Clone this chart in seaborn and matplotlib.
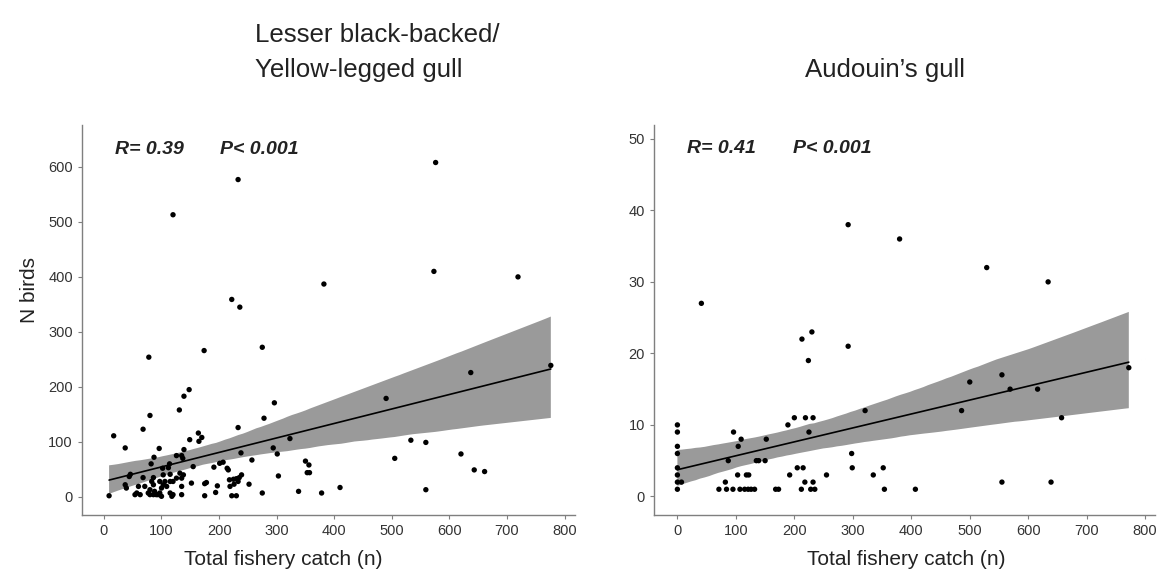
import matplotlib
matplotlib.use("Agg")
import matplotlib.pyplot as plt
import seaborn as sns
import pandas as pd

# Lesser black-backed / Yellow-legged gull
lbb_catch = [233, 120, 576, 573, 719, 382, 222, 236, 275, 174, 78, 148, 139, 131, 296, 80, 278, 68, 233, 17,
             37, 96, 149, 164, 170, 165, 139, 126, 135, 137, 87, 82, 102, 114, 112, 155,
             46, 44, 68, 86, 103, 115, 132, 138,
             37, 39, 60, 71, 83, 86, 80, 97, 106, 103, 100, 109, 115, 120, 126, 135, 135, 152,
             54, 57, 63, 77, 80, 86, 88, 91, 94, 100, 97, 115, 118, 120, 135, 9,
             294, 301, 238, 257, 201, 207, 191, 214, 216, 303, 239, 235, 230, 225, 218, 233, 226, 219, 252,
             175, 178, 197, 194, 175, 222, 230, 275, 323, 338, 350, 356, 353, 357, 378, 410, 490, 505, 533,
             559, 559, 620, 637, 643, 661, 776]
lbb_birds = [577, 513, 608, 410, 400, 387, 359, 345, 272, 266, 254, 195, 183, 158, 171, 148, 143, 123, 126, 111,
             89, 88, 104, 116, 108, 101, 86, 75, 75, 70, 72, 60, 52, 60, 53, 55,
             41, 37, 35, 35, 40, 41, 43, 40,
             22, 16, 19, 19, 28, 22, 13, 28, 28, 22, 16, 19, 28, 28, 34, 34, 19, 25,
             4, 7, 4, 7, 4, 4, 10, 4, 4, 1, 7, 7, 1, 4, 4, 2,
             89, 78, 80, 67, 61, 63, 54, 52, 49, 38, 40, 35, 33, 32, 31, 28, 23, 19, 23,
             24, 26, 20, 8, 2, 2, 2, 7, 106, 10, 65, 58, 44, 44, 7, 17, 179, 70, 103,
             99, 13, 78, 226, 49, 46, 239]

# Audouin's gull
aud_catch = [0, 0, 0, 0, 0, 0, 0, 0, 7, 41, 82, 87,
             71, 84, 95, 107, 115, 121, 126, 132, 168, 173, 212, 228, 235, 354, 407,
             96, 104, 109, 103, 118, 122, 192, 255, 335, 135, 139, 150, 152,
             189, 200, 219, 232, 205, 215, 218, 232, 213, 230, 224, 225,
             292, 292, 298, 299, 321, 352, 380,
             486, 500, 529, 555, 555, 569, 616, 634, 639, 657, 772]
aud_birds = [10, 9, 7, 6, 4, 3, 2, 1, 2, 27, 2, 5,
             1, 1, 1, 1, 1, 1, 1, 1, 1, 1, 1, 1, 1, 1, 1,
             9, 7, 8, 3, 3, 3, 3, 3, 3, 5, 5, 5, 8,
             10, 11, 11, 11, 4, 4, 2, 2, 22, 23, 19, 9,
             21, 38, 6, 4, 12, 4, 36,
             12, 16, 32, 17, 2, 15, 15, 30, 2, 11, 18]

x_ticks = [0, 100, 200, 300, 400, 500, 600, 700, 800]
lbb_yticks = [0, 100, 200, 300, 400, 500, 600]
aud_yticks = [0, 10, 20, 30, 40, 50]

sns.set_style("ticks")
plt.rcParams['font.family'] = ['Liberation Sans', 'DejaVu Sans']

fig = plt.figure(figsize=(11.6, 5.81), dpi=100)
ax1 = fig.add_axes([0.0707, 0.1136, 0.425, 0.672])
ax2 = fig.add_axes([0.5638, 0.1136, 0.432, 0.672])

df1 = pd.DataFrame({"catch": lbb_catch, "birds": lbb_birds})
df2 = pd.DataFrame({"catch": aud_catch, "birds": aud_birds})

for ax, df in [(ax1, df1), (ax2, df2)]:
    sns.regplot(data=df, x="catch", y="birds", ax=ax, scatter=False, ci=95, seed=0,
                color="black", line_kws={"linewidth": 1.2, "zorder": 4})
    for coll in ax.collections:
        coll.set_facecolor("#9a9a9a")
        coll.set_edgecolor("none")
        coll.set_alpha(1)
        coll.set_zorder(2)
    sns.scatterplot(data=df, x="catch", y="birds", ax=ax, color="black", s=15,
                    edgecolor="none", zorder=3)
    ax.set_xticks(x_ticks)
    for s in ["top", "right"]:
        ax.spines[s].set_visible(False)
    for s in ["left", "bottom"]:
        ax.spines[s].set_color("#7f7f7f")
        ax.spines[s].set_linewidth(1.0)
    ax.tick_params(axis="both", colors="#7f7f7f", labelcolor="#333333", labelsize=10.5,
                   length=3, width=0.8)
    ax.set_xlabel("Total fishery catch (n)", fontsize=15, color="#222222")

ax1.set_xlim(-38, 818)
ax1.set_ylim(-33, 677)
ax1.set_yticks(lbb_yticks)
ax1.set_ylabel("N birds", fontsize=15, color="#222222")
ax1.yaxis.set_label_coords(-0.088, 0.577)
ax1.xaxis.set_label_coords(0.408, -0.09)

ax2.set_xlim(-40, 817)
ax2.set_ylim(-2.6, 52)
ax2.set_yticks(aud_yticks)
ax2.set_ylabel("")
ax2.xaxis.set_label_coords(0.503, -0.09)

ann = dict(fontsize=14, fontweight="bold", fontstyle="italic", color="#222222", va="center", ha="left")
ax1.text(19, 632, "R= 0.39", **ann)
ax1.text(201, 632, "P< 0.001", **ann)
ax2.text(16, 48.6, "R= 0.41", **ann)
ax2.text(197, 48.6, "P< 0.001", **ann)

title_kw = dict(fontsize=18.6, color="#222222", va="center")
fig.text(0.22, 0.94, "Lesser black-backed/", ha="left", **title_kw)
fig.text(0.22, 0.8795, "Yellow-legged gull", ha="left", **title_kw)
fig.text(0.763, 0.8795, "Audouin\u2019s gull", ha="center", **title_kw)

fig.savefig("out.png", dpi=100)
